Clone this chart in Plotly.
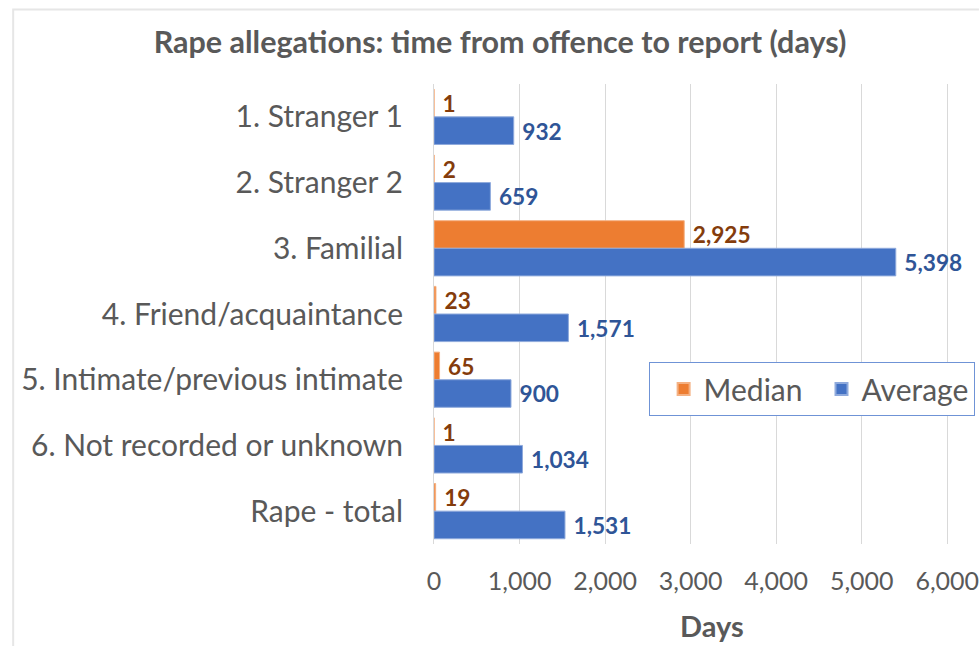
import plotly.graph_objects as go

categories = ["1. Stranger 1", "2. Stranger 2", "3. Familial", "4. Friend/acquaintance",
              "5. Intimate/previous intimate", "6. Not recorded or unknown", "Rape - total"]
median_days = [1, 2, 2925, 23, 65, 1, 19]
average_days = [932, 659, 5398, 1571, 900, 1034, 1531]
x_ticks = [0, 1000, 2000, 3000, 4000, 5000, 6000]

FONT = "Lato"
GRAY = "#595959"

W, H = 979, 646
L, R, T, B = 434, 0, 84, 102
pw, ph = W - L - R, H - T - B


def px(x):
    return (x - L) / pw


def py(y):
    return (H - B - y) / ph


fig = go.Figure()
fig.add_trace(go.Bar(
    y=categories, x=median_days, name="Median", orientation="h",
    marker=dict(color="#ED7D31", line=dict(color="#F4B183", width=1)),
    text=[f" {v:,}" for v in median_days], textposition="outside",
    textfont=dict(family=FONT, size=23, color="#843C0C", weight="bold"),
    cliponaxis=False,
))
fig.add_trace(go.Bar(
    y=categories, x=average_days, name="Average", orientation="h",
    marker=dict(color="#4472C4", line=dict(color="#8FAADC", width=1)),
    text=[f" {v:,}" for v in average_days], textposition="outside",
    textfont=dict(family=FONT, size=23, color="#2F5597", weight="bold"),
    cliponaxis=False,
))

fig.update_layout(
    width=W, height=H,
    margin=dict(l=L, r=R, t=T, b=B),
    paper_bgcolor="white", plot_bgcolor="white",
    barmode="group", bargap=0.16, bargroupgap=0,
    font=dict(family=FONT, color=GRAY),
    title=dict(text="<b>Rape allegations: time from offence to report (days)</b>",
               x=500 / W, xref="container", xanchor="center", y=1 - 42 / H, yanchor="middle",
               font=dict(family=FONT, size=30.5, color=GRAY)),
    showlegend=True,
    legend=dict(orientation="h", x=px(651), y=py(362), xanchor="left", yanchor="top",
                bordercolor="#6F93D6", borderwidth=1, bgcolor="white",
                font=dict(family=FONT, size=30, color=GRAY), traceorder="normal",
                itemsizing="constant", indentation=14),
    uniformtext=dict(mode=False),
    annotations=[dict(text="<b>Days</b>", xref="paper", yref="paper", x=px(715), y=py(625),
                      xanchor="center", yanchor="middle", showarrow=False,
                      font=dict(family=FONT, size=29, color=GRAY))],
)
fig.update_xaxes(
    range=[0, 6000 * pw / (953 - L)], tickvals=x_ticks,
    ticktext=[f"{v:,}" for v in x_ticks],
    showgrid=True, gridcolor="#D9D9D9", gridwidth=1, zeroline=False,
    showline=False, tickfont=dict(family=FONT, size=25, color=GRAY),
    ticklabelstandoff=20, ticklabeloverflow="allow",
    fixedrange=True,
)
fig.update_yaxes(
    autorange="reversed", showgrid=False, zeroline=False,
    showline=True, linecolor="#D9D9D9", linewidth=1,
    tickfont=dict(family=FONT, size=30, color=GRAY), ticklabelstandoff=24,
    fixedrange=True,
)
fig.add_shape(type="path", xref="paper", yref="paper",
              path=f"M {px(8.5)} {py(650)} L {px(8.5)} {py(9.5)} L {px(985)} {py(9.5)}",
              line=dict(color="#E6E6E6", width=2))

fig.write_html("out.html", config={"displayModeBar": False},
               post_script="document.body.style.margin='0';")
